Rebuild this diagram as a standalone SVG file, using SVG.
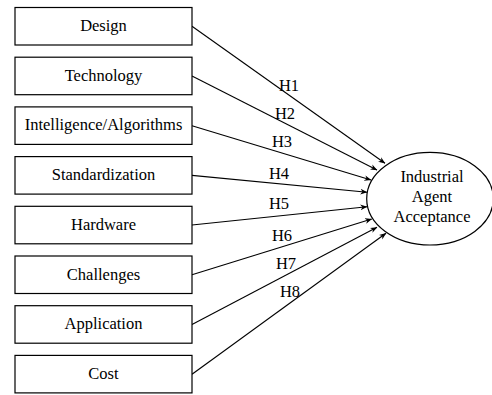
<svg xmlns="http://www.w3.org/2000/svg" width="492" height="395" viewBox="0 0 492 395">
<defs>
<style>
.box{fill:#fff;stroke:#000;stroke-width:1.2}
.t{font-family:'Liberation Serif','Times New Roman',serif;font-size:16.5px;fill:#000;text-anchor:middle}
.c{stroke:#000;stroke-width:1.1;fill:none;marker-end:url(#ah)}
</style>
<marker id="ah" viewBox="0 0 10 10" refX="9.5" refY="5" markerWidth="7" markerHeight="7" markerUnits="userSpaceOnUse" orient="auto">
<path d="M0,1 L10,5 L0,9 L3,5 Z" fill="#000"/>
</marker>
</defs>
<g id="connectors">
<line class="c" x1="192" y1="26.3" x2="385" y2="163.3"/>
<line class="c" x1="192" y1="76" x2="377" y2="170"/>
<line class="c" x1="192" y1="125.7" x2="371" y2="180"/>
<line class="c" x1="192" y1="175.4" x2="367" y2="192.3"/>
<line class="c" x1="192" y1="225" x2="367" y2="206.7"/>
<line class="c" x1="192" y1="274.8" x2="371.7" y2="219"/>
<line class="c" x1="192" y1="324.5" x2="377" y2="227.3"/>
<line class="c" x1="192" y1="374.2" x2="386" y2="233.3"/>
<text class="t" x="289" y="91">H1</text>
<text class="t" x="285" y="118.5">H2</text>
<text class="t" x="282" y="147">H3</text>
<text class="t" x="279" y="178.5">H4</text>
<text class="t" x="279" y="208.5">H5</text>
<text class="t" x="282" y="240.5">H6</text>
<text class="t" x="286" y="268.5">H7</text>
<text class="t" x="290" y="296.5">H8</text>
</g>
<g id="n1"><rect class="box" x="15" y="7.5" width="177" height="37.5"/><text class="t" x="103.5" y="31">Design</text></g>
<g id="n2"><rect class="box" x="15" y="57.2" width="177" height="37.5"/><text class="t" x="103.5" y="80.7">Technology</text></g>
<g id="n3"><rect class="box" x="15" y="106.9" width="177" height="37.5"/><text class="t" x="103.5" y="130.4">Intelligence/Algorithms</text></g>
<g id="n4"><rect class="box" x="15" y="156.6" width="177" height="37.5"/><text class="t" x="103.5" y="180.1">Standardization</text></g>
<g id="n5"><rect class="box" x="15" y="206.3" width="177" height="37.5"/><text class="t" x="103.5" y="229.8">Hardware</text></g>
<g id="n6"><rect class="box" x="15" y="256" width="177" height="37.5"/><text class="t" x="103.5" y="279.5">Challenges</text></g>
<g id="n7"><rect class="box" x="15" y="305.7" width="177" height="37.5"/><text class="t" x="103.5" y="329.2">Application</text></g>
<g id="n8"><rect class="box" x="15" y="355.4" width="177" height="37.5"/><text class="t" x="103.5" y="378.9">Cost</text></g>
<g id="target">
<ellipse cx="430" cy="198.7" rx="63.3" ry="46.3" fill="#fff" stroke="#000" stroke-width="1.2"/>
<text class="t" x="432" y="182">Industrial</text>
<text class="t" x="432" y="202">Agent</text>
<text class="t" x="432" y="222.3">Acceptance</text>
</g>
</svg>
